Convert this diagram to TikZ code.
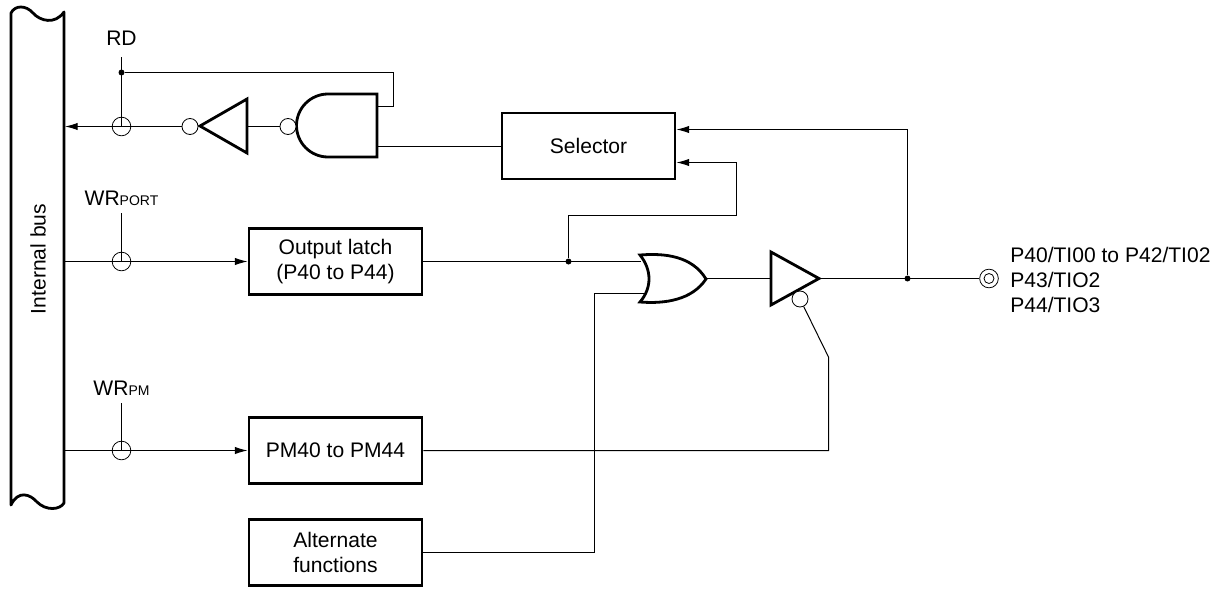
\documentclass[tikz,border=0pt]{standalone}
\usepackage{fontspec}
\setmainfont{Liberation Sans}
\usetikzlibrary{arrows.meta,positioning,calc}

\begin{document}
\begin{tikzpicture}[
    x=0.75pt, y=-0.75pt,
    box/.style={rectangle, draw=black, line width=2.1pt, minimum width=129.75pt, minimum height=49.5pt,
                align=center, font=\fontsize{15.8}{19}\selectfont, inner sep=0pt},
    gate/.style={draw=black, line width=2.1pt, line join=miter},
    wire/.style={line width=0.75pt, draw=black},
    arrowwire/.style={wire, -{Latex[length=9.5pt,width=5.5pt]}},
    bubble/.style={circle, draw=black, line width=0.6pt, fill=white, minimum size=12pt, inner sep=0pt},
    strobe/.style={circle, draw=black, line width=0.6pt, minimum size=14pt, inner sep=0pt},
    joint/.style={circle, fill=black, minimum size=4.5pt, inner sep=0pt},
    lbl/.style={font=\fontsize{15.8}{19}\selectfont, inner sep=0pt}
]
  \useasboundingbox (0,0) rectangle (1225,589);

  % Internal bus
  \draw[line width=2.1pt, line join=round] (11,13) .. controls (15,5) and (26,5) .. (33,13)
     .. controls (40,21) and (55,25) .. (64,12) -- (64,503)
     .. controls (60,510) and (46,511) .. (37,502) .. controls (30,494) and (18,490) .. (11,505) -- cycle;
  \node[lbl, rotate=90] (bus) at (38,259) {Internal bus};

  % Boxes
  \node[box] (sel) at (588.5,146) {Selector};
  \node[box] (latch) at (335.5,261.5) {Output latch\\(P40 to P44)};
  \node[box] (pm) at (335.5,450.5) {PM40 to PM44};
  \node[box] (alt) at (335.5,552.5) {Alternate\\functions};

  % Read path gates
  \draw[gate] (377,94) -- (328,94) arc[start angle=270, end angle=90, radius=31.5] -- (377,157) -- cycle;
  \draw[gate] (247,99) -- (247,153) -- (200,126) -- cycle;

  % Output gates
  \draw[gate] (640,255) .. controls (665,253) and (692,256) .. (706,279)
     .. controls (692,300) and (665,304) .. (640,302) .. controls (652,288) and (652,270) .. (640,255) -- cycle;
  \draw[gate] (771,252) -- (771,305) -- (819,278.5) -- cycle;

  % Gate pins and bus taps
  \coordinate (busrd) at (65,126.5);
  \coordinate (buswr) at (64,261.5);
  \coordinate (buspm) at (64,450.5);
  \coordinate (andin) at (377,106.5);
  \coordinate (andout) at (377,146.5);
  \coordinate (orin1) at (641,261.5);
  \coordinate (orin2) at (644,293.5);
  \coordinate (orout) at (706,278.5);
  \coordinate (drvin) at (771,278.5);
  \coordinate (drvout) at (819,278.5);
  \coordinate (rdtop) at (121.5,57);
  \coordinate (wrtop) at (121.5,213);
  \coordinate (pmtop) at (121.5,403);
  \coordinate (turn) at (828.5,357);
  \coordinate (selup) at (675,129.5);
  \coordinate (seldown) at (675,162.5);

  % Bubbles, strobes and pin
  \node[bubble] (bub1) at (288,126.5) {};
  \node[bubble] (bub2) at (190,126.5) {};
  \node[bubble] (bub3) at (800,299) {};
  \node[strobe] (strd) at (121.5,126.5) {};
  \node[strobe] (stwr) at (121.5,261.5) {};
  \node[strobe] (stpm) at (121.5,450.5) {};
  \node[strobe] (pin) at (989,278.5) {};
  \node[circle, draw=black, line width=0.6pt, minimum size=7.5pt, inner sep=0pt] (pinin) at (989,278.5) {};
  \node[joint] (jrd) at (121.5,72.5) {};
  \node[joint] (jlatch) at (568.5,261.5) {};
  \node[joint] (jout) at (907.5,278.5) {};

  % Read path
  \draw[wire] (rdtop) -- (strd.center);
  \draw[wire] (jrd) -| (393.5,106.5) -- (andin);
  \draw[wire] (bub1) -- (247,126.5);
  \draw[arrowwire] (bub2) -- (busrd);
  \draw[wire] (andout) -- (sel.west |- andout);

  % Write paths
  \draw[wire] (wrtop) -- (stwr.center);
  \draw[arrowwire] (buswr) -- (latch);
  \draw[wire] (pmtop) -- (stpm.center);
  \draw[arrowwire] (buspm) -- (pm);

  % Output path
  \draw[wire] (latch) -- (orin1);
  \draw[arrowwire] (jlatch) |- (736.5,215.5) |- (sel.east |- seldown);
  \draw[wire] (alt) -| (594.5,293.5) -- (orin2);
  \draw[wire] (orout) -- (drvin);
  \draw[wire] (drvout) -- (pin);
  \draw[arrowwire] (jout) |- (sel.east |- selup);
  \draw[wire] (pm) -| (turn) -- (bub3);

  % Labels
  \node[lbl] (rd) at (121.5,38) {RD};
  \node[lbl] (wrport) at (121.5,198) {WR{\fontsize{10.5}{12}\selectfont PORT}};
  \node[lbl] (wrpm) at (121.5,388) {WR{\fontsize{10.5}{12}\selectfont PM}};
  \node[lbl, anchor=west, align=left] (pins) at (1010,280) {P40/TI00 to P42/TI02\\P43/TIO2\\P44/TIO3};
\end{tikzpicture}
\end{document}
